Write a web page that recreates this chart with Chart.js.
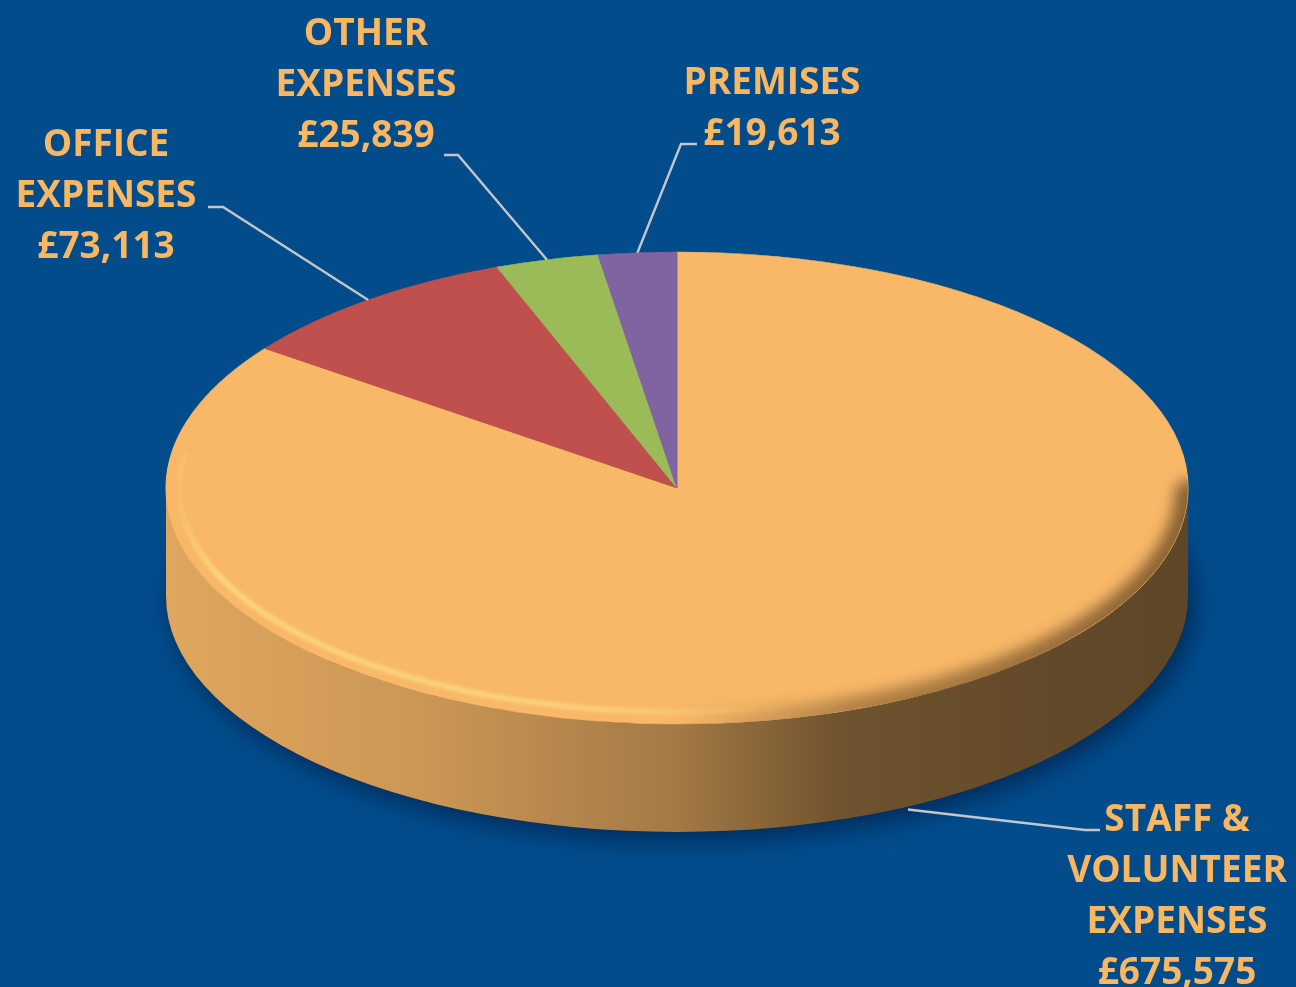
<!DOCTYPE html>
<html>
<head>
    <script src="https://cdn.jsdelivr.net/npm/chart.js"></script>
    <style>
        html, body { margin: 0; padding: 0; background: #024c8b; overflow: hidden; }
        #wrap { width: 1296px; height: 987px; }
    </style>
</head>
<body>
<div id="wrap"><canvas id="costChart" width="1296" height="987"></canvas></div>
<script>
    // data
    const categories = [['STAFF &', 'VOLUNTEER', 'EXPENSES'], ['OFFICE', 'EXPENSES'], ['OTHER', 'EXPENSES'], ['PREMISES']];
    const amounts = [675575, 73113, 25839, 19613];
    const sliceColors = ['#f8b868', '#c0504d', '#9bbb59', '#8064a2'];

    // where the tilted disc sits on the page
    const CX = 677, CY = 488, RX = 511, RY = 236, DEPTH = 108;

    // label placement: text centre, first line y, leader elbow, leader end x
    const labelSpots = [
        { x: 1177, y: 820, elbow: [1085, 830], endX: 1100, side: true },
        { x: 106, y: 145, elbow: [223, 207], endX: 208 },
        { x: 366, y: 34, elbow: [458, 155], endX: 444 },
        { x: 772, y: 83, elbow: [681, 144], endX: 697 }
    ];

    function shade(hex, f) {
        const n = parseInt(hex.slice(1), 16);
        const r = Math.round(((n >> 16) & 255) * f);
        const g = Math.round(((n >> 8) & 255) * f);
        const b = Math.round((n & 255) * f);
        return 'rgb(' + r + ',' + g + ',' + b + ')';
    }

    const pie3d = {
        id: 'pie3d',
        beforeDatasetsDraw(chart) {
            const ctx = chart.ctx;
            const arcs = chart.getDatasetMeta(0).data;
            const r = arcs[0].outerRadius;

            // drop shadow under the disc
            ctx.save();
            ctx.shadowColor = 'rgba(0,15,50,0.55)';
            ctx.shadowBlur = 24;
            ctx.shadowOffsetX = 6;
            ctx.shadowOffsetY = 8;
            ctx.fillStyle = '#3c2a14';
            ctx.beginPath();
            ctx.ellipse(CX, CY + DEPTH, RX, RY, 0, 0, Math.PI * 2);
            ctx.fill();
            ctx.restore();

            // side walls, front half only
            arcs.forEach((arc, i) => {
                const col = sliceColors[i];
                [0, Math.PI * 2, -Math.PI * 2].forEach(shift => {
                    const a1 = Math.max(arc.startAngle + shift, 0);
                    const a2 = Math.min(arc.endAngle + shift, Math.PI);
                    if (a2 <= a1) return;
                    const g = ctx.createLinearGradient(CX - RX, 0, CX + RX, 0);
                    g.addColorStop(0, shade(col, 0.9));
                    g.addColorStop(0.25, shade(col, 0.82));
                    g.addColorStop(0.5, shade(col, 0.66));
                    g.addColorStop(0.66, shade(col, 0.45));
                    g.addColorStop(0.85, shade(col, 0.4));
                    g.addColorStop(1, shade(col, 0.38));
                    ctx.beginPath();
                    ctx.ellipse(CX, CY, RX, RY, 0, a1, a2, false);
                    ctx.ellipse(CX, CY + DEPTH, RX, RY, 0, a2, a1, true);
                    ctx.closePath();
                    ctx.fillStyle = g;
                    ctx.fill();
                });
            });

            // squash the library's pie into the top face
            ctx.save();
            ctx.translate(CX, CY);
            ctx.scale(RX / r, RY / r);
            ctx.translate(-arcs[0].x, -arcs[0].y);
        },
        afterDatasetsDraw(chart) {
            const ctx = chart.ctx;
            ctx.restore();
            const arcs = chart.getDatasetMeta(0).data;

            // bevel on the front rim: dark on the right, a bright line on the left
            ctx.save();
            ctx.beginPath();
            ctx.ellipse(CX, CY, RX, RY, 0, 0, Math.PI * 2);
            ctx.clip();

            const dk = ctx.createLinearGradient(CX, 0, CX + RX, 0);
            dk.addColorStop(0, 'rgba(90,60,28,0)');
            dk.addColorStop(0.35, 'rgba(90,60,28,0.45)');
            dk.addColorStop(1, 'rgba(90,60,28,0.7)');
            ctx.filter = 'blur(7px)';
            ctx.strokeStyle = dk;
            ctx.lineWidth = 26;
            ctx.lineCap = 'round';
            ctx.beginPath();
            ctx.ellipse(CX, CY, RX, RY, 0, 0.02, Math.PI * 0.62);
            ctx.stroke();

            const hl = ctx.createLinearGradient(CX - RX, 0, CX + RX, 0);
            hl.addColorStop(0, 'rgba(255,230,140,0)');
            hl.addColorStop(0.05, 'rgba(255,230,140,0.9)');
            hl.addColorStop(0.4, 'rgba(255,230,140,0.8)');
            hl.addColorStop(0.62, 'rgba(255,230,140,0)');
            ctx.filter = 'blur(2px)';
            ctx.strokeStyle = hl;
            ctx.lineWidth = 4;
            ctx.beginPath();
            ctx.ellipse(CX, CY, RX - 13, RY - 12, 0, Math.PI * 0.3, Math.PI + 0.15);
            ctx.stroke();
            ctx.restore();

            // labels with leader lines
            ctx.save();
            ctx.font = '700 37px "Open Sans", sans-serif';
            ctx.textAlign = 'center';
            ctx.textBaseline = 'middle';
            arcs.forEach((arc, i) => {
                const spot = labelSpots[i];
                const mid = (arc.startAngle + arc.endAngle) / 2;
                const sx = CX + RX * Math.cos(mid);
                const sy = CY + RY * Math.sin(mid) + (spot.side ? DEPTH + 3 : 0);
                ctx.strokeStyle = '#c3c6ca';
                ctx.lineWidth = 2.4;
                ctx.beginPath();
                ctx.moveTo(sx, sy);
                ctx.lineTo(spot.elbow[0], spot.elbow[1]);
                ctx.lineTo(spot.endX, spot.elbow[1]);
                ctx.stroke();

                const lines = chart.data.labels[i].concat('£' + amounts[i].toLocaleString('en-GB'));
                ctx.fillStyle = '#f9b762';
                lines.forEach((t, k) => ctx.fillText(t, spot.x, spot.y + k * 51));
            });
            ctx.restore();
        }
    };

    const ctx = document.getElementById('costChart').getContext('2d');
    const costChart = new Chart(ctx, {
        type: 'pie',
        data: {
            labels: categories,
            datasets: [{
                data: amounts,
                backgroundColor: sliceColors,
                borderColor: sliceColors,
                borderWidth: 1
            }]
        },
        options: {
            responsive: false,
            animation: false,
            layout: { padding: 0 },
            plugins: {
                legend: { display: false },
                tooltip: { enabled: false }
            }
        },
        plugins: [pie3d]
    });
</script>
</body>
</html>
